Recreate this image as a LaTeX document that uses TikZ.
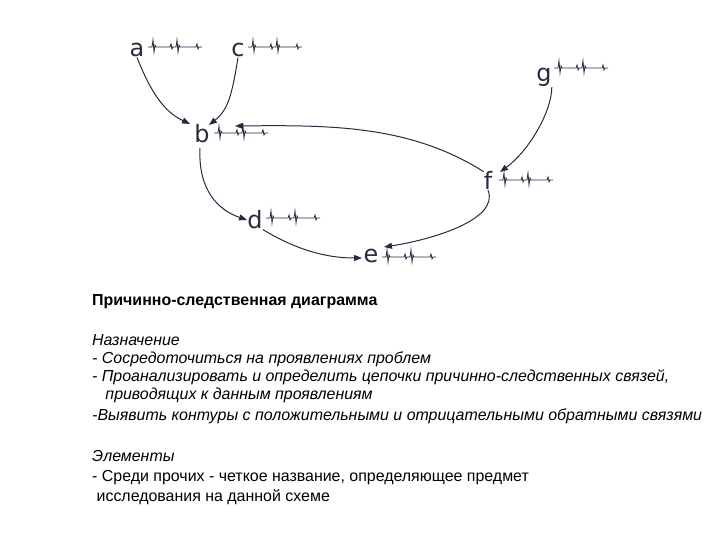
\documentclass[tikz,border=0pt]{standalone}
\usepackage{fontspec}
\setmainfont{Liberation Sans}
\newfontfamily\handfont{DejaVu Sans}
\usetikzlibrary{arrows.meta}
\definecolor{ink}{HTML}{262A40}
\begin{document}
\begin{tikzpicture}[x=1bp,y=-1bp,
  letter/.style={font=\handfont\fontsize{24}{24}\selectfont, text=ink, inner sep=0pt, anchor=base},
  conn/.style={draw=ink, line width=1pt, -{Triangle[length=8pt,width=6pt]}},
  txt/.style={anchor=base west, inner sep=0pt, font=\fontsize{16}{18}\selectfont},
  scrib/.pic={\draw[ink, line width=0.8pt] (0,0) -- (4,0) -- (5,-7) -- (6,5) -- (7,-2) -- (8,0) -- (22,0) -- (23,-3) -- (24,2) -- (25,0) -- (28,0) -- (29,-7) -- (30,5) -- (31,-2) -- (32,0) -- (48,0) -- (49,-3) -- (50,2) -- (51,0) -- (54,0);}
]
\useasboundingbox (0,0) rectangle (720,540);
\node[letter] (a) at (137,57) {a}; \pic at (148,47) {scrib};
\node[letter] (c) at (238,57) {c}; \pic at (248,47) {scrib};
\node[letter] (b) at (202,143) {b}; \pic at (214,133) {scrib};
\node[letter] (g) at (544,82) {g}; \pic at (554,68) {scrib};
\node[letter] (f) at (488,190) {f}; \pic at (499,180) {scrib};
\node[letter] (d) at (255,229) {d}; \pic at (266,218) {scrib};
\node[letter] (e) at (371,263) {e}; \pic at (382,257) {scrib};
\coordinate (bt) at (200,148);
\draw[conn] (a.south) .. controls (152,95) and (165,112) .. (190,124);
\draw[conn] (c.south) .. controls (232,95) and (228,110) .. (209,125);
\draw[conn] (f.north west) .. controls (410,125) and (330,125) .. (235,126);
\draw[conn] (g.south east) .. controls (552,110) and (530,150) .. (500,172);
\draw[conn] (bt) .. controls (198,190) and (218,210) .. (247,220);
\draw[conn] (d.south east) .. controls (300,252) and (330,258) .. (362,258);
\draw[conn] (f.south) .. controls (500,220) and (430,240) .. (384,247);
\node[txt, font=\fontsize{16}{18}\bfseries] (t0) at (92,305) {Причинно-следственная диаграмма};
\node[txt, font=\fontsize{16}{18}\itshape] (t1) at (92,345) {Назначение};
\node[txt, font=\fontsize{16}{18}\itshape] (t2) at (92,363) {- Сосредоточиться на проявлениях проблем};
\node[txt, font=\fontsize{16}{18}\itshape] (t3) at (92,381) {- Проанализировать и определить цепочки причинно-следственных связей,};
\node[txt, font=\fontsize{16}{18}\itshape] (t4) at (92,399) {\ \ \ приводящих к данным проявлениям};
\node[txt, font=\fontsize{16}{18}\itshape] (t5) at (92,420) {-Выявить контуры с положительными и отрицательными обратными связями};
\node[txt, font=\fontsize{16}{18}\itshape] (t6) at (92,461) {Элементы};
\node[txt] (t7) at (92,481) {- Среди прочих - четкое название, определяющее предмет};
\node[txt] (t8) at (92,501) {\ исследования на данной схеме};
\end{tikzpicture}
\end{document}
